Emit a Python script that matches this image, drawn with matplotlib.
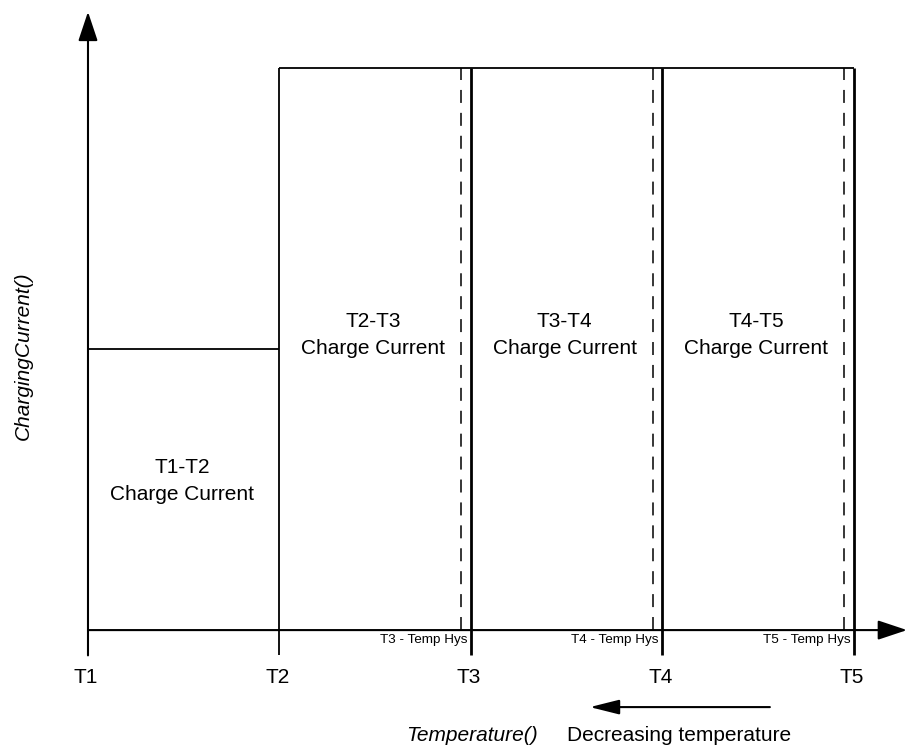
import matplotlib

matplotlib.use("Agg")
import matplotlib.pyplot as plt

plt.rcParams["font.family"] = ["Liberation Sans", "DejaVu Sans"]

# temperature thresholds along the x axis (one unit per band)
thresholds = ["T1", "T2", "T3", "T4", "T5"]
temp_pos = [0, 1, 2, 3, 4]

# charging current of each band (full scale = 1.0)
band_current = [0.5, 1.0, 1.0, 1.0]
band_labels = [
    "T1-T2\nCharge Current",
    "T2-T3\nCharge Current",
    "T3-T4\nCharge Current",
    "T4-T5\nCharge Current",
]

# hysteresis below T3, T4, T5
hys_width = 0.05
hys_labels = ["T3 - Temp Hys", "T4 - Temp Hys", "T5 - Temp Hys"]

x_label = "Temperature()"
y_label = "ChargingCurrent()"
direction_label = "Decreasing temperature"

fig = plt.figure(figsize=(9.07, 7.47), dpi=100)
ax = fig.add_axes([0, 0, 1, 1])
ax.set_xlim(-0.4595, 4.277)
ax.set_ylim(-0.208, 1.121)
ax.axis("off")

tick_len = 0.045
arrow = dict(arrowstyle="-|>,head_length=1.2,head_width=0.4", color="black",
             lw=1.5, mutation_scale=15, shrinkA=0, shrinkB=0)

# axes with arrow heads
ax.annotate("", xy=(0, 1.1), xytext=(0, -tick_len), arrowprops=arrow)
ax.annotate("", xy=(4.277, 0), xytext=(0, 0), arrowprops=arrow)

# band outlines
for i, level in enumerate(band_current):
    x0, x1 = temp_pos[i], temp_pos[i + 1]
    ax.plot([x0, x1], [level, level], color="black", lw=1.3, solid_capstyle="butt")
    cx = x0 + (x1 - x0) * 0.49
    ax.text(cx, level * 0.52 + 0.005, band_labels[i], ha="center", va="center",
            fontsize=15, linespacing=1.5)

# vertical threshold lines (down through the axis as ticks)
for i, t in enumerate(temp_pos[1:], start=1):
    top = max(band_current[i - 1], band_current[min(i, len(band_current) - 1)])
    ax.plot([t, t], [-tick_len, top], color="black", lw=2.0 if i > 1 else 1.3,
            solid_capstyle="butt")

# hysteresis dashed lines and small labels
for t, lab in zip(temp_pos[2:], hys_labels):
    ax.plot([t - hys_width, t - hys_width], [0, 1.0], color="black", lw=1.1,
            ls=(0, (8.5, 6.5)))
    ax.text(t - 0.02, -0.018, lab, ha="right", va="center", fontsize=9.7)

# threshold tick labels
for t, lab in zip(temp_pos, thresholds):
    ax.text(t - 0.01, -0.085, lab, ha="center", va="center", fontsize=15)

# decreasing temperature arrow and axis titles
ax.annotate("", xy=(2.621, -0.137), xytext=(3.561, -0.137),
            arrowprops=dict(arrowstyle="-|>,head_length=1.2,head_width=0.3",
                            color="black", lw=1.5, mutation_scale=15,
                            shrinkA=0, shrinkB=0))
ax.text(2.35, -0.187, x_label, ha="right", va="center", fontsize=15,
        style="italic")
ax.text(2.5, -0.187, direction_label, ha="left", va="center", fontsize=15)
ax.text(-0.339, 0.4875, y_label, ha="center", va="center", fontsize=15,
        style="italic", rotation=90)

fig.savefig("out.png", dpi=100)
